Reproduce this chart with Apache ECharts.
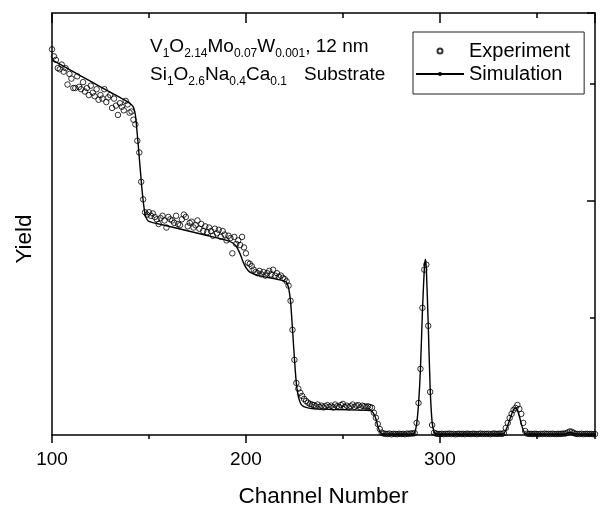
<!DOCTYPE html>
<html>
<head>
<meta charset="utf-8">
<script src="https://cdn.jsdelivr.net/npm/echarts@6/dist/echarts.min.js"></script>
<style>
    html, body { margin: 0; padding: 0; background: #fff; }
    #chart { width: 600px; height: 506px; }
</style>
</head>
<body>
<div id="chart"></div>
<script>
// measured spectrum, one count per channel starting at firstChannel
const firstChannel = 100;
const expYield = [
    3290, 3230, 3200, 3130, 3120, 3160, 3100, 3130, 2990, 3080,
    3040, 2960, 2960, 3060, 2970, 2950, 3010, 2930, 2960, 2900,
    2980, 2920, 2890, 2950, 2860, 2900, 2870, 2950, 2840, 2880,
    2900, 2790, 2870, 2810, 2730, 2830, 2800, 2770, 2850, 2820,
    2750, 2760, 2690, 2650, 2510, 2410, 2160, 2010, 1900, 1880,
    1900, 1870, 1890, 1860, 1840, 1800, 1850, 1870, 1830, 1770,
    1860, 1840, 1830, 1810, 1870, 1800, 1790, 1840, 1880, 1860,
    1780, 1810, 1820, 1770, 1790, 1830, 1760, 1800, 1740, 1780,
    1730, 1770, 1740, 1700, 1760, 1720, 1750, 1690, 1740, 1710,
    1660, 1700, 1680, 1550, 1690, 1630, 1660, 1620, 1690, 1600,
    1550, 1470, 1460, 1440, 1410, 1390, 1380, 1400, 1370, 1390,
    1360, 1380, 1400, 1370, 1410, 1360, 1380, 1350, 1360, 1340,
    1330, 1310, 1274, 1145, 897, 641, 444, 395, 361, 333,
    308, 290, 276, 265, 260, 255, 245, 260, 240, 250,
    235, 245, 255, 240, 250, 235, 260, 245, 240, 255,
    265, 240, 250, 235, 245, 260, 240, 250, 255, 235,
    250, 245, 240, 245, 238, 233, 190, 147, 94, 51,
    20, 12, 10, 8, 12, 6, 10, 9, 7, 11,
    8, 10, 6, 12, 9, 14, 12, 17, 103, 273,
    564, 1085, 1410, 1453, 931, 367, 85, 20, 12, 9,
    8, 11, 7, 10, 9, 12, 8, 10, 6, 9,
    11, 8, 10, 7, 12, 9, 8, 11, 10, 7,
    9, 12, 8, 10, 9, 11, 7, 10, 13, 9,
    10, 12, 9, 17, 60, 103, 145, 180, 214, 231,
    256, 222, 180, 103, 34, 12, 9, 10, 8, 11,
    9, 7, 10, 8, 12, 9, 10, 8, 11, 9,
    8, 10, 9, 11, 12, 14, 22, 30, 28, 18,
    10, 9, 8, 11, 7, 9, 10, 8, 9, 7,
    8
];

// simulated curve
const simChannels = [
    100, 110, 120, 130, 138, 141, 142, 143, 144, 145, 146, 147, 148, 149, 150, 152,
    165, 180, 190, 193, 195, 197, 199, 201, 203, 206, 215, 220, 221, 222, 223, 224,
    225, 226, 227, 228, 229, 231, 234, 245, 262, 264, 265, 266, 267, 268, 269, 270,
    272, 286, 287, 288, 289, 290, 291, 292, 292.5, 293, 294, 295, 296, 297, 298, 332,
    333, 334, 335, 336, 337, 338, 339, 340, 341, 342, 343, 344, 345, 364, 366, 367,
    368, 370, 380
];
const simYield = [
    3200, 3108, 3016, 2925, 2852, 2818, 2795, 2730, 2560, 2370, 2170, 2000, 1885, 1838, 1822, 1812,
    1762, 1702, 1660, 1640, 1610, 1545, 1460, 1405, 1380, 1362, 1332, 1312, 1300, 1255, 1140, 905,
    655, 440, 330, 278, 252, 235, 225, 218, 210, 208, 200, 178, 138, 78, 30, 12,
    8, 8, 20, 90, 262, 565, 1050, 1420, 1500, 1430, 945, 400, 110, 28, 9, 8,
    14, 40, 82, 130, 178, 215, 231, 212, 160, 95, 40, 14, 8, 8, 17, 24,
    19, 8, 8
];

const xTicks = [100, 200, 300];
const fontFamily = "'Liberation Sans', Arial, sans-serif";

const chart = echarts.init(document.getElementById("chart"), null, { renderer: "canvas" });

const expData = expYield.map((v, i) => [firstChannel + i, v]);
const simData = simChannels.map((c, i) => [c, simYield[i]]);

const black = "#000";
const frameLine = { show: true, onZero: false, lineStyle: { color: black, width: 1.5 } };
const noLine = { show: false, onZero: false };

function xAx(extra) {
    return Object.assign({
        type: "value", min: xTicks[0], max: 380, gridIndex: 0,
        axisLabel: { show: false }, splitLine: { show: false }
    }, extra);
}
function yAx(extra) {
    return Object.assign({
        type: "value", min: 0, max: 3600,
        axisLabel: { show: false }, splitLine: { show: false }
    }, extra);
}

chart.setOption({
    animation: false,
    backgroundColor: "#fff",
    textStyle: { fontFamily: fontFamily },
    grid: { left: 52, right: 5, top: 13, bottom: 71, containLabel: false, outerBoundsMode: "none" },
    legend: {
        orient: "vertical",
        left: 413, top: 32,
        itemWidth: 48, itemHeight: 5, itemGap: 3, itemTextGap: 7,
        padding: [9, 14, 10, 2],
        borderColor: "#222", borderWidth: 1,
        textStyle: { fontSize: 20, color: black, fontFamily: fontFamily },
        data: ["Experiment", "Simulation"]
    },
    xAxis: [
        xAx({
            position: "bottom", interval: 100,
            axisLine: frameLine,
            axisTick: { show: true, inside: false, length: 8, lineStyle: { color: black, width: 1.5 } },
            axisLabel: {
                show: true, fontSize: 19, color: black, margin: 15, fontFamily: fontFamily,
                showMaxLabel: false
            },
            name: "Channel Number", nameLocation: "middle", nameGap: 50, nameMoveOverlap: false,
            nameTextStyle: { fontSize: 22.5, color: black, fontFamily: fontFamily }
        }),
        xAx({
            position: "bottom", interval: 50, axisLine: noLine,
            axisTick: { show: true, inside: false, length: 4, lineStyle: { color: black, width: 1.5 } }
        }),
        xAx({
            position: "top", interval: 100, axisLine: frameLine,
            axisTick: { show: true, inside: true, length: 10, lineStyle: { color: black, width: 1.5 } }
        }),
        xAx({
            position: "top", interval: 50, axisLine: noLine,
            axisTick: { show: true, inside: true, length: 5, lineStyle: { color: black, width: 1.5 } }
        })
    ],
    yAxis: [
        yAx({
            position: "left", axisLine: frameLine, axisTick: { show: false },
            name: "Yield", nameLocation: "middle", nameGap: 16, nameMoveOverlap: false,
            nameTextStyle: { fontSize: 22.5, color: black, fontFamily: fontFamily, padding: [0, 30, 0, 0] }
        }),
        yAx({
            position: "right", interval: 2000, axisLine: frameLine,
            axisTick: { show: true, inside: true, length: 8, lineStyle: { color: black, width: 1.5 } }
        }),
        yAx({
            position: "right", interval: 1000, axisLine: noLine,
            axisTick: { show: true, inside: true, length: 5, lineStyle: { color: black, width: 1.5 } }
        })
    ],
    graphic: [
        {
            type: "text", left: 150, top: 37, silent: true,
            style: {
                text: "{m|V}{s|1}{m|O}{s|2.14}{m|Mo}{s|0.07}{m|W}{s|0.001}{m|, 12 nm}",
                rich: {
                    m: { fontSize: 19, fontFamily: fontFamily, fill: black, verticalAlign: "bottom", padding: [0, 0, 4, 0] },
                    s: { fontSize: 12, fontFamily: fontFamily, fill: black, verticalAlign: "bottom" }
                }
            }
        },
        {
            type: "text", left: 150, top: 65, silent: true,
            style: {
                text: "{m|Si}{s|1}{m|O}{s|2.6}{m|Na}{s|0.4}{m|Ca}{s|0.1}{t|Substrate}",
                rich: {
                    m: { fontSize: 19, fontFamily: fontFamily, fill: black, verticalAlign: "bottom", padding: [0, 0, 4, 0] },
                    s: { fontSize: 12, fontFamily: fontFamily, fill: black, verticalAlign: "bottom" },
                    t: { fontSize: 19, fontFamily: fontFamily, fill: black, verticalAlign: "bottom", padding: [0, 0, 4, 17] }
                }
            }
        }
    ],
    series: [
        {
            name: "Experiment",
            type: "scatter",
            xAxisIndex: 0, yAxisIndex: 0,
            data: expData,
            symbol: "circle",
            symbolSize: 5.5,
            itemStyle: { color: "rgba(0,0,0,0)", borderColor: black, borderWidth: 1 },
            silent: true,
            z: 3
        },
        {
            name: "Simulation",
            type: "line",
            xAxisIndex: 0, yAxisIndex: 0,
            data: simData,
            symbol: "none",
            smooth: 0.25,
            itemStyle: { color: black },
            lineStyle: { color: black, width: 1.4 },
            silent: true,
            z: 2
        }
    ]
});
</script>
</body>
</html>
